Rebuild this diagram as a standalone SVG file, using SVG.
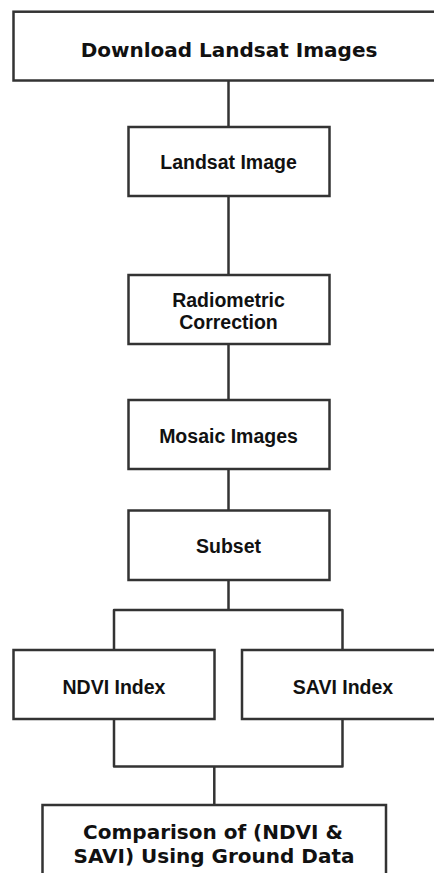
<svg xmlns="http://www.w3.org/2000/svg" width="434" height="873" viewBox="0 0 434 873">
<style>
.box{fill:#fff;stroke:#333;stroke-width:2.5}
.ln{fill:none;stroke:#333;stroke-width:2.5;stroke-linejoin:round}
.a{font-family:"Liberation Sans",Arial,sans-serif;font-weight:bold;font-size:19.5px;fill:#111;text-anchor:middle}
.v{font-family:"DejaVu Sans",Verdana,sans-serif;font-weight:bold;font-size:20px;fill:#111;text-anchor:middle}
</style>
<rect width="434" height="873" fill="#fff"/>
<g id="connectors">
<path class="ln" d="M228.5,80.5V127"/>
<path class="ln" d="M228.5,196V275"/>
<path class="ln" d="M228.5,344V400"/>
<path class="ln" d="M228.5,469V510"/>
<path class="ln" d="M228.5,580V610M114,650V610H342.5V650"/>
<path class="ln" d="M114,719V766.5H342.5V719M214.3,766.5V805"/>
</g>
<g id="n1"><rect class="box" x="13.5" y="11.7" width="430" height="68.8"/><text class="v" x="229" y="56.7">Download Landsat Images</text></g>
<g id="n2"><rect class="box" x="128.5" y="127" width="201" height="69"/><text class="a" x="228.5" y="169.3">Landsat Image</text></g>
<g id="n3"><rect class="box" x="128.5" y="275" width="201" height="69"/><text class="a" x="228.5" y="306.7">Radiometric</text><text class="a" x="228.5" y="329">Correction</text></g>
<g id="n4"><rect class="box" x="128.5" y="400" width="201" height="69"/><text class="a" x="228.5" y="442.7">Mosaic Images</text></g>
<g id="n5"><rect class="box" x="128.5" y="510.5" width="201" height="69.5"/><text class="a" x="228.5" y="553.3">Subset</text></g>
<g id="n6"><rect class="box" x="13.5" y="650" width="201" height="69"/><text class="a" x="114" y="694">NDVI Index</text></g>
<g id="n7"><rect class="box" x="242" y="650" width="201" height="69"/><text class="a" x="343" y="694">SAVI Index</text></g>
<g id="n8"><rect class="box" x="42.5" y="805" width="343.5" height="80"/><text class="v" x="213" y="839.3">Comparison of (NDVI &amp;</text><text class="v" x="214" y="862.7">SAVI) Using Ground Data</text></g>
</svg>
